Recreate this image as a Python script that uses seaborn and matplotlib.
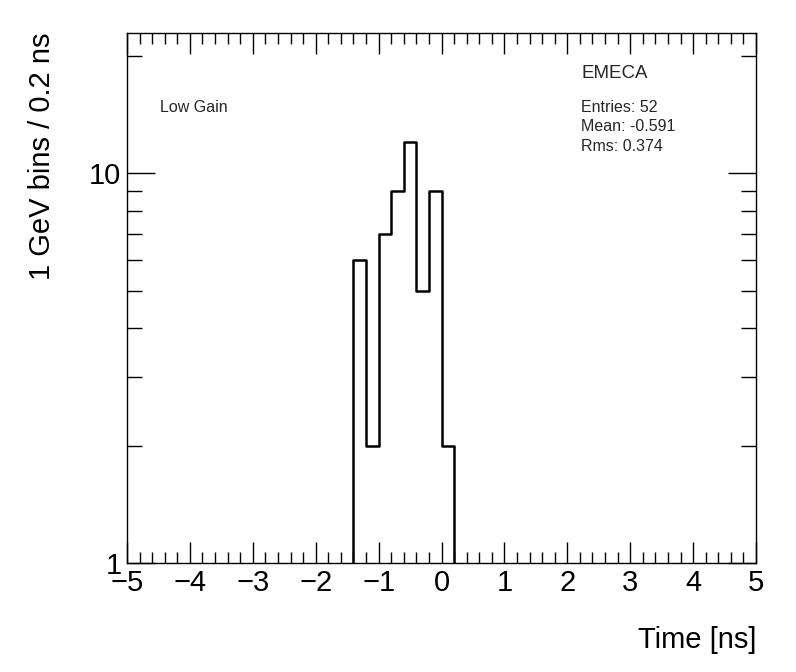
import numpy as np
import seaborn as sns
import matplotlib.pyplot as plt
from matplotlib.ticker import MultipleLocator, LogLocator, NullFormatter, FixedLocator

# histogram contents (0.2 ns bins)
bin_edges = [-1.4, -1.2, -1.0, -0.8, -0.6, -0.4, -0.2, 0.0, 0.2]
counts = [6, 2, 7, 9, 12, 5, 9, 2]
stats_lines = ['Entries: 52', 'Mean: -0.591', 'Rms: 0.374']

sns.set_theme(style='ticks')
plt.rcParams['font.family'] = ['Liberation Sans', 'DejaVu Sans']
plt.rcParams['axes.linewidth'] = 1.0

centers = [(a + b) / 2 for a, b in zip(bin_edges[:-1], bin_edges[1:])]

fig = plt.figure(figsize=(7.96, 6.72), dpi=100)
ax = fig.add_axes([127 / 796, 1 - 563 / 672, 629 / 796, 530 / 672])

sns.histplot(x=centers, weights=counts, bins=bin_edges, element='step',
             fill=False, color='black', linewidth=1.8, ax=ax)
# outer edges of the histogram drop to the bottom of the frame
ax.vlines([bin_edges[0], bin_edges[-1]], 1, [counts[0], counts[-1]],
          color='black', linewidth=1.8)

ax.set_yscale('log')
ax.set_xlim(-5, 5)
ax.set_ylim(1, 22.9)

ax.xaxis.set_major_locator(MultipleLocator(1))
ax.xaxis.set_minor_locator(MultipleLocator(0.2))
ax.yaxis.set_major_locator(FixedLocator([1, 10]))
ax.yaxis.set_minor_locator(LogLocator(base=10, subs=np.arange(2, 10)))
ax.yaxis.set_minor_formatter(NullFormatter())
ax.set_yticklabels(['1', '10'])
ax.set_xticks(range(-5, 6))
ax.set_xticklabels([str(v).replace('-', '\u2212') for v in range(-5, 6)])

ax.tick_params(which='both', direction='in', top=True, right=True, labelsize=21,
               color='black', labelcolor='black')
ax.tick_params(which='major', length=15, width=1)
ax.tick_params(which='minor', length=8, width=1)
ax.tick_params(axis='y', which='major', length=20)
ax.tick_params(axis='y', which='minor', length=11)
ax.tick_params(axis='x', pad=4)
ax.tick_params(axis='y', pad=4)

for s in ax.spines.values():
    s.set_color('black')

ax.set_xlabel('Time [ns]', fontsize=21, loc='right', labelpad=21, color='black')
ax.set_ylabel('1 GeV bins / 0.2 ns', fontsize=21, loc='top', labelpad=24, color='black')

ax.text(0.722, 0.923, 'EMECA', transform=ax.transAxes, fontsize=13.5, va='center')
for i, line in enumerate(stats_lines):
    ax.text(0.722, 0.860 - i * 0.037, line, transform=ax.transAxes, fontsize=11.5, va='center')
ax.text(0.052, 0.860, 'Low Gain', transform=ax.transAxes, fontsize=11.5, va='center')

fig.savefig('out.png', dpi=100)
